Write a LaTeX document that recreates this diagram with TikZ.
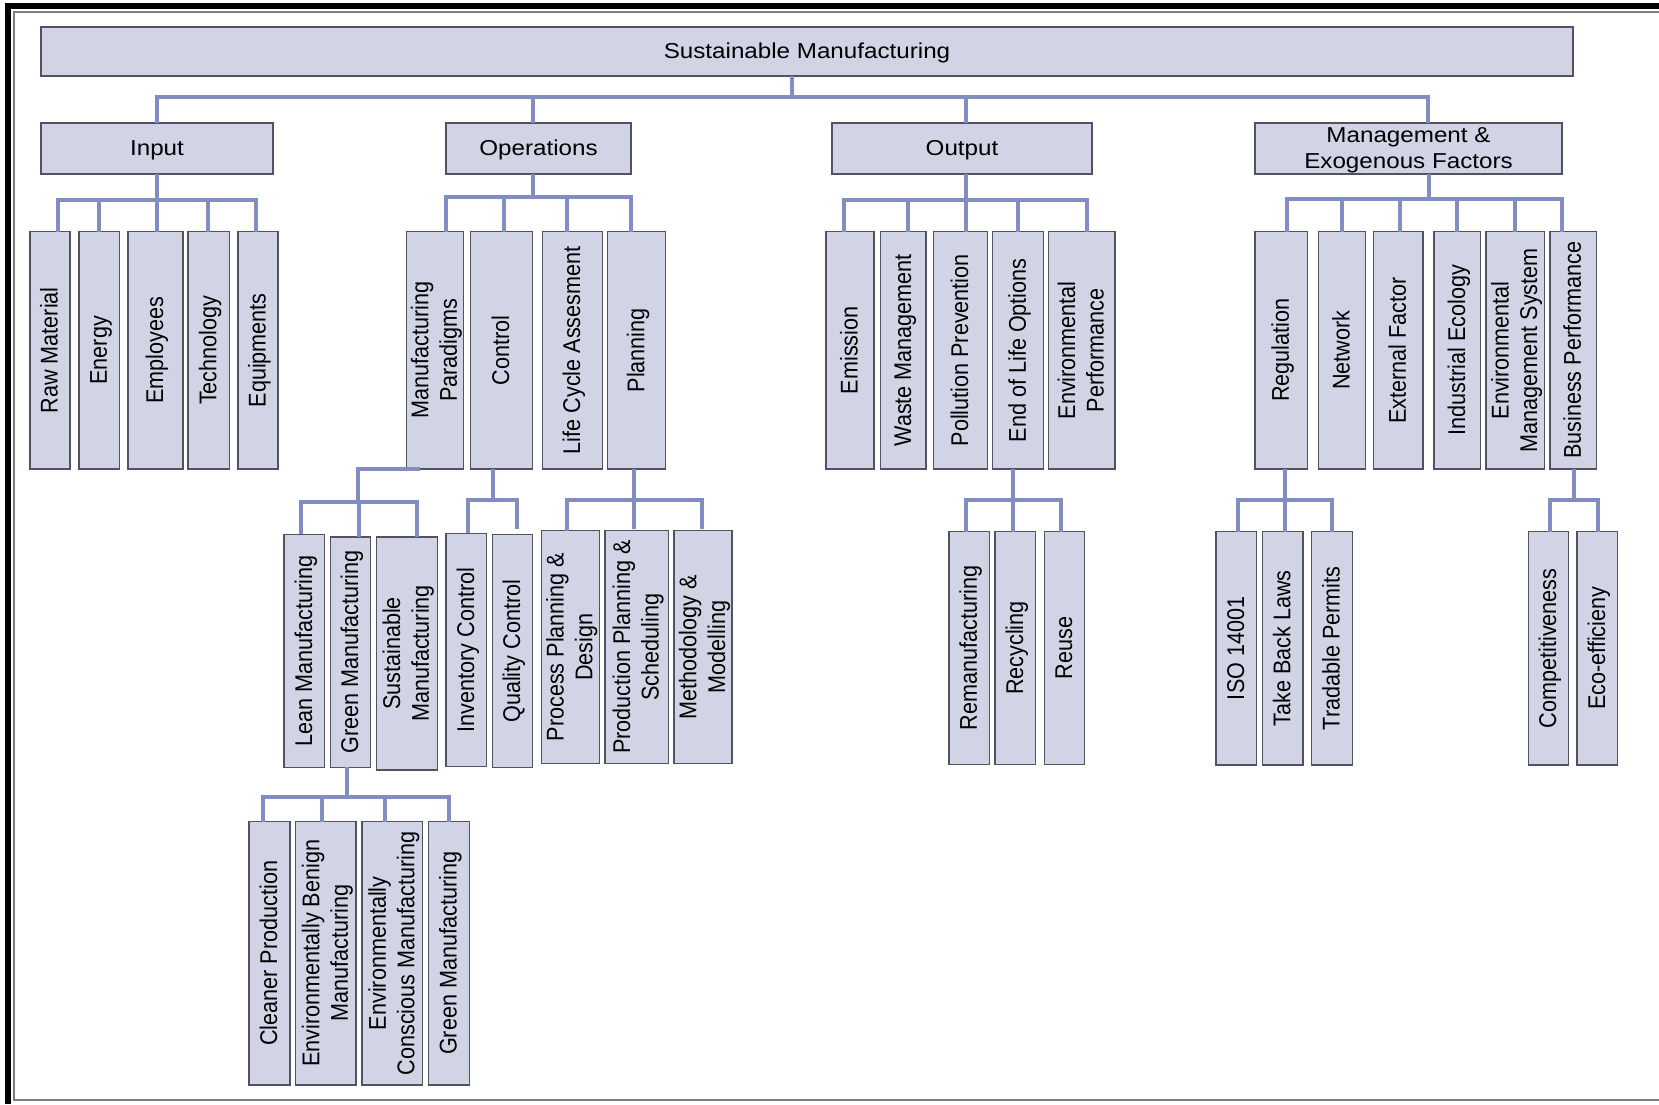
\documentclass[tikz,border=0pt]{standalone}
\usepackage{fontspec}
\usepackage{graphicx}
\setmainfont{Liberation Sans}
\usetikzlibrary{calc}

\definecolor{boxfill}{RGB}{208,212,228}
\definecolor{boxline}{RGB}{82,82,98}
\definecolor{linkblue}{RGB}{130,142,192}
\definecolor{framegrey}{RGB}{128,124,140}

% horizontal and vertical (bottom-to-top) labels, slightly widened glyphs;
% the content is nudged off the strut centre without changing the box size
\newcommand\hl[1]{\raisebox{-2pt}[\height][\depth]{\scalebox{1.12}[1]{\begin{tabular}{@{}c@{}}#1\end{tabular}}}}
\newcommand\vl[1]{\kern2pt\scalebox{1.12}[1]{\rotatebox{90}{\begin{tabular}{@{}c@{}}#1\end{tabular}}}\kern-2pt}

% box from its corners: name, x1, y1, x2, y2, text
\newcommand\bx[6]{%
  \pgfmathsetmacro\bxw{#4-#2}%
  \pgfmathsetmacro\bxh{#5-#3}%
  \pgfmathsetmacro\bxcx{(#2+#4)/2}%
  \pgfmathsetmacro\bxcy{(#3+#5)/2}%
  \node[box, minimum width=\bxw pt, minimum height=\bxh pt] (#1) at (\bxcx,\bxcy) {#6};}

\begin{document}
\begin{tikzpicture}[x=1pt, y=-1pt,
  box/.style={rectangle, draw=boxline, line width=1.3pt, fill=boxfill,
    inner sep=0pt, outer sep=0pt, text=black,
    font=\fontsize{21.6}{25.5}\selectfont},
  conn/.style={draw=linkblue, line width=4pt, line join=miter}]

\useasboundingbox (0,0) rectangle (1659,1104);

% page frame
\draw[line width=6pt, line join=miter] (1659,6) -- (8,6) -- (8,1104);
\draw[framegrey, line width=2pt, line join=miter] (1659,12) -- (14,12) -- (14,1100) -- (1659,1100);

% root and main branches
\bx{top}{41}{27}{1573}{76}{\hl{Sustainable Manufacturing}}
\bx{input}{41}{123}{273}{174}{\hl{Input}}
\bx{ops}{446}{123}{631}{174}{\hl{Operations}}
\bx{out}{832}{123}{1092}{174}{\hl{Output}}
\bx{mgmt}{1255}{123}{1562}{174}{\hl{Management \&\\Exogenous Factors}}

% input
\bx{raw}{30}{231.5}{70}{469}{\vl{Raw Material}}
\bx{energy}{79}{231.5}{119.5}{469}{\vl{Energy}}
\bx{employees}{128}{231.5}{183}{469}{\vl{Employees}}
\bx{technology}{188}{231.5}{229.5}{469}{\vl{Technology}}
\bx{equipments}{238}{231.5}{278}{469}{\vl{Equipments}}

% operations
\bx{mp}{406.7}{231.5}{463.3}{469}{\vl{Manufacturing\\Paradigms}}
\bx{control}{470.3}{231.5}{532.7}{469}{\vl{Control}}
\bx{lca}{542.7}{231.5}{602.3}{469}{\vl{Life Cycle Assesment}}
\bx{planning}{607.7}{231.5}{665.7}{469}{\vl{Planning}}

% output
\bx{emission}{826}{231.5}{874}{469}{\vl{Emission}}
\bx{waste}{880.7}{231.5}{926}{469}{\vl{Waste Management}}
\bx{pollution}{933.3}{231.5}{987.3}{469}{\vl{Pollution Prevention}}
\bx{eol}{992.7}{231.5}{1043.7}{469}{\vl{End of Life Options}}
\bx{envperf}{1048.3}{231.5}{1115}{469}{\vl{Environmental\\Performance}}

% management & exogenous factors
\bx{regulation}{1255}{231.5}{1307.3}{469}{\vl{Regulation}}
\bx{network}{1318.7}{231.5}{1365.3}{469}{\vl{Network}}
\bx{external}{1373.3}{231.5}{1423}{469}{\vl{External Factor}}
\bx{indeco}{1434}{231.5}{1480.7}{469}{\vl{Industrial Ecology}}
\bx{ems}{1486}{231.5}{1544.3}{469}{\vl{Environmental\\Management System}}
\bx{business}{1550}{231.5}{1596.3}{469}{\vl{Business Performance}}

% third level
\bx{lean}{284}{534.3}{324.7}{767.3}{\vl{Lean Manufacturing}}
\bx{green}{330.3}{537}{370.7}{767.3}{\vl{Green Manufacturing}}
\bx{sust}{376.3}{537}{437.3}{770}{\vl{Sustainable\\Manufacturing}}
\bx{inventory}{446}{533.3}{486.7}{766.7}{\vl{Inventory Control}}
\bx{quality}{492.3}{534.7}{532.7}{767.7}{\vl{Quality Control}}
\bx{ppd}{541.3}{530.7}{599.3}{763.3}{\vl{Process Planning \&\\Design}}
\bx{pps}{605}{530.7}{668.3}{763.3}{\vl{Production Planning \&\\Scheduling}}
\bx{mm}{674}{530.7}{732}{763.3}{\vl{Methodology \&\\Modelling}}
\bx{reman}{949}{531.7}{989.3}{764.3}{\vl{Remanufacturing}}
\bx{recycling}{995}{531.7}{1035.7}{764.3}{\vl{Recycling}}
\bx{reuse}{1044.3}{531.7}{1084.3}{764.3}{\vl{Reuse}}
\bx{iso}{1216}{531.7}{1256.7}{765}{\vl{ISO 14001}}
\bx{takeback}{1262.3}{531.7}{1303}{765}{\vl{Take Back Laws}}
\bx{tradable}{1311.3}{531.7}{1352.3}{765}{\vl{Tradable Permits}}
\bx{compet}{1528.3}{531.7}{1568.7}{765}{\vl{Competitiveness}}
\bx{ecoeff}{1577}{531.7}{1617.7}{765}{\vl{Eco-efficieny}}

% fourth level
\bx{cleaner}{249}{821.7}{290}{1085}{\vl{Cleaner Production}}
\bx{ebm}{295.7}{821.7}{356}{1085}{\vl{Environmentally Benign\\Manufacturing}}
\bx{ecm}{362}{821.7}{422.7}{1085}{\vl{Environmentally\\Conscious Manufacturing}}
\bx{green2}{428.7}{821.7}{469.3}{1085}{\vl{Green Manufacturing}}

% ---- connectors ----
% root
\draw[conn] ([xshift=-15pt]top.south) -- ++(0,21) coordinate (j0);
\foreach \n/\s in {input/0, ops/-5.5, out/4, mgmt/19.5}
  \draw[conn] ([xshift=\s pt]\n.north) |- (j0);

% input
\draw[conn] (input.south) -- ++(0,26) coordinate (jin);
\foreach \n/\s in {raw/8.3, energy/-0.3, employees/1.5, technology/-0.3, equipments/-2}
  \draw[conn] ([xshift=\s pt]\n.north) |- (jin);

% operations
\draw[conn] ([xshift=-5.8pt]ops.south) -- ++(0,23) coordinate (jops);
\foreach \n/\s in {mp/11, control/2.5, lca/-5.2, planning/-6}
  \draw[conn] ([xshift=\s pt]\n.north) |- (jops);

% output
\draw[conn] ([xshift=4pt]out.south) -- ++(0,26) coordinate (jout);
\foreach \n/\s in {emission/-5.7, waste/5, pollution/5.7, eol/0, envperf/5.6}
  \draw[conn] ([xshift=\s pt]\n.north) |- (jout);

% management
\draw[conn] ([xshift=20pt]mgmt.south) -- ++(0,25) coordinate (jmg);
\foreach \n/\s in {regulation/5.5, network/0, external/1.5, indeco/0, ems/0, business/-11.5}
  \draw[conn] ([xshift=\s pt]\n.north) |- (jmg);

% manufacturing paradigms
\draw[conn] ([xshift=13.3pt]mp.south west) -- ++(-61.5,0) -- ++(0,32.5) coordinate (jmp);
\foreach \n/\s in {lean/-3.3, green/8.3, sust/10.5}
  \draw[conn] ([xshift=\s pt]\n.north) |- (jmp);

% control
\draw[conn] ([xshift=-8.8pt]control.south) -- ++(0,31) coordinate (jct);
\draw[conn] ([xshift=2pt]inventory.north) |- (jct);
\draw[conn] ([xshift=4.2pt, yshift=5.4pt]quality.north) |- (jct);

% planning
\draw[conn] ([xshift=-2.7pt]planning.south) -- ++(0,31) coordinate (jpl);
\draw[conn] ([xshift=-3pt]ppd.north) |- (jpl);
\draw[conn] ([xshift=-2.7pt, yshift=1.4pt]pps.north) |- (jpl);
\draw[conn] ([xshift=-1.3pt, yshift=1.4pt]mm.north) |- (jpl);

% end of life options
\draw[conn] ([xshift=-5.5pt]eol.south) -- ++(0,31) coordinate (jeol);
\foreach \n/\s in {reman/-3.2, recycling/-2.6, reuse/-3.6}
  \draw[conn] ([xshift=\s pt]\n.north) |- (jeol);

% regulation
\draw[conn] ([xshift=3.8pt]regulation.south) -- ++(0,31) coordinate (jreg);
\foreach \n/\s in {iso/1.4, takeback/2.3, tradable/0.5}
  \draw[conn] ([xshift=\s pt]\n.north) |- (jreg);

% business performance
\draw[conn] ([xshift=0.8pt]business.south) -- ++(0,31) coordinate (jbp);
\foreach \n/\s in {compet/1.5, ecoeff/0.4}
  \draw[conn] ([xshift=\s pt]\n.north) |- (jbp);

% green manufacturing
\draw[conn] ([xshift=-3.2pt]green.south) -- ++(0,29.4) coordinate (jgr);
\foreach \n/\s in {cleaner/-6.2, ebm/-4.1, ecm/-7.3, green2/-0.3}
  \draw[conn] ([xshift=\s pt]\n.north) |- (jgr);

\end{tikzpicture}
\end{document}
